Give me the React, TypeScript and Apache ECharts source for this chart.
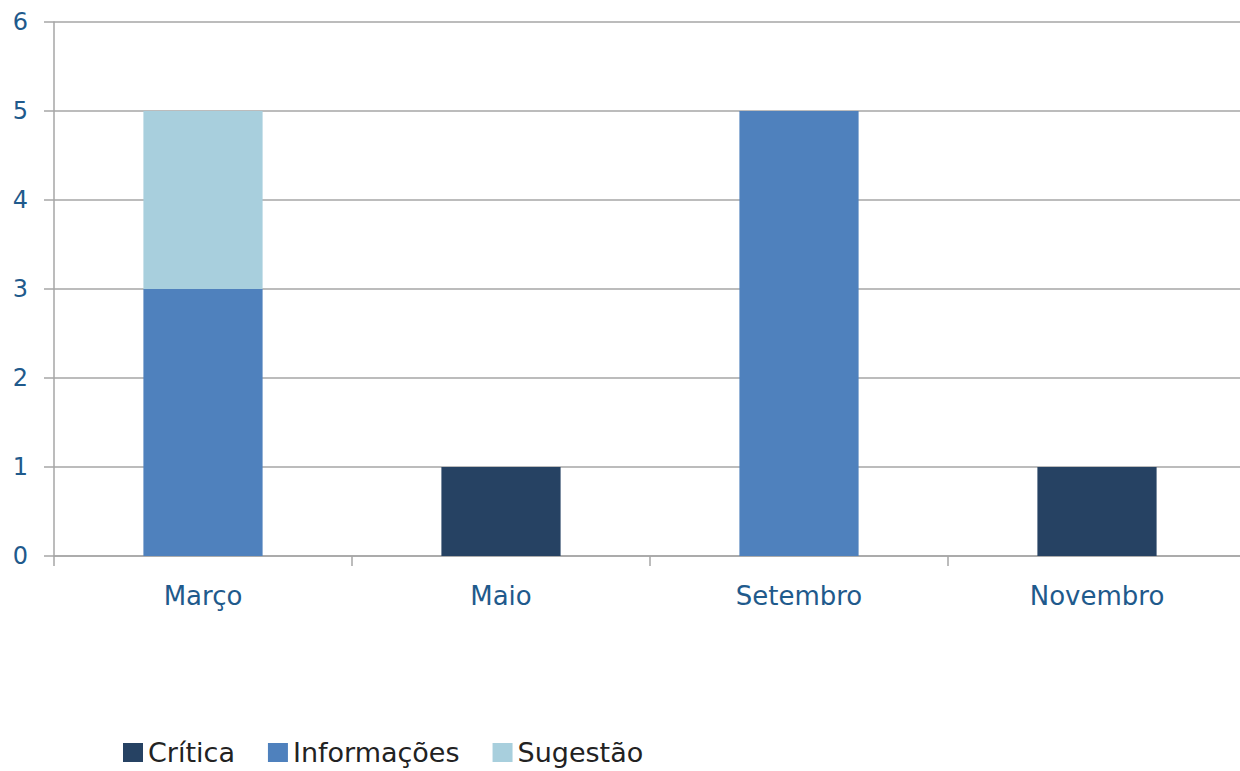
import React, { useEffect, useRef } from "react";
import * as echarts from "echarts";

const categories = ["Março", "Maio", "Setembro", "Novembro"];
const critica = [0, 1, 0, 1];
const informacoes = [3, 0, 5, 0];
const sugestao = [2, 0, 0, 0];
const yTicks = [0, 1, 2, 3, 4, 5, 6];

export default function App() {
  const ref = useRef<HTMLDivElement>(null);
  useEffect(() => {
    if (!ref.current) return;
    const chart = echarts.init(ref.current, undefined, { renderer: "svg" });
    const font = "DejaVu Sans";
    const mk = (name: string, data: number[], color: string) => ({
      name,
      type: "bar",
      stack: "total",
      data: data.map((v) => (v === 0 ? null : v)),
      barWidth: "40%",
      itemStyle: { color },
    });
    chart.setOption({
      animation: false,
      textStyle: { fontFamily: font },
      grid: { left: 54, right: -3, top: 22, bottom: 215, containLabel: false },
      xAxis: {
        type: "category",
        data: categories,
        axisLine: { lineStyle: { color: "#a6a6a6", width: 1.5 } },
        axisTick: { show: true, length: 10, lineStyle: { color: "#a6a6a6", width: 1.5 } },
        axisLabel: { color: "#1f5a8c", fontSize: 26, margin: 27, fontFamily: font },
      },
      yAxis: {
        type: "value",
        min: yTicks[0],
        max: yTicks[yTicks.length - 1],
        interval: 1,
        axisLine: { show: true, lineStyle: { color: "#a6a6a6", width: 1.5 } },
        axisTick: { show: true, length: 10, lineStyle: { color: "#a6a6a6", width: 1.5 } },
        splitLine: { lineStyle: { color: "#a6a6a6", width: 1.5 } },
        axisLabel: { color: "#1f5a8c", fontSize: 24, margin: 26, fontFamily: font },
      },
      legend: {
        left: 118,
        top: 734,
        padding: 5,
        itemWidth: 20,
        itemHeight: 19,
        itemGap: 33,
        icon: "rect",
        textStyle: { fontSize: 27, color: "#222", fontFamily: font },
        data: ["Crítica", "Informações", "Sugestão"],
      },
      series: [
        mk("Crítica", critica, "#264263"),
        mk("Informações", informacoes, "#4f81bd"),
        mk("Sugestão", sugestao, "#a8cfdd"),
      ],
    });
    return () => chart.dispose();
  }, []);
  return (
    <div
      ref={ref}
      style={{ position: "fixed", left: 0, top: 0, width: 1246, height: 771, background: "#fff" }}
    />
  );
}
